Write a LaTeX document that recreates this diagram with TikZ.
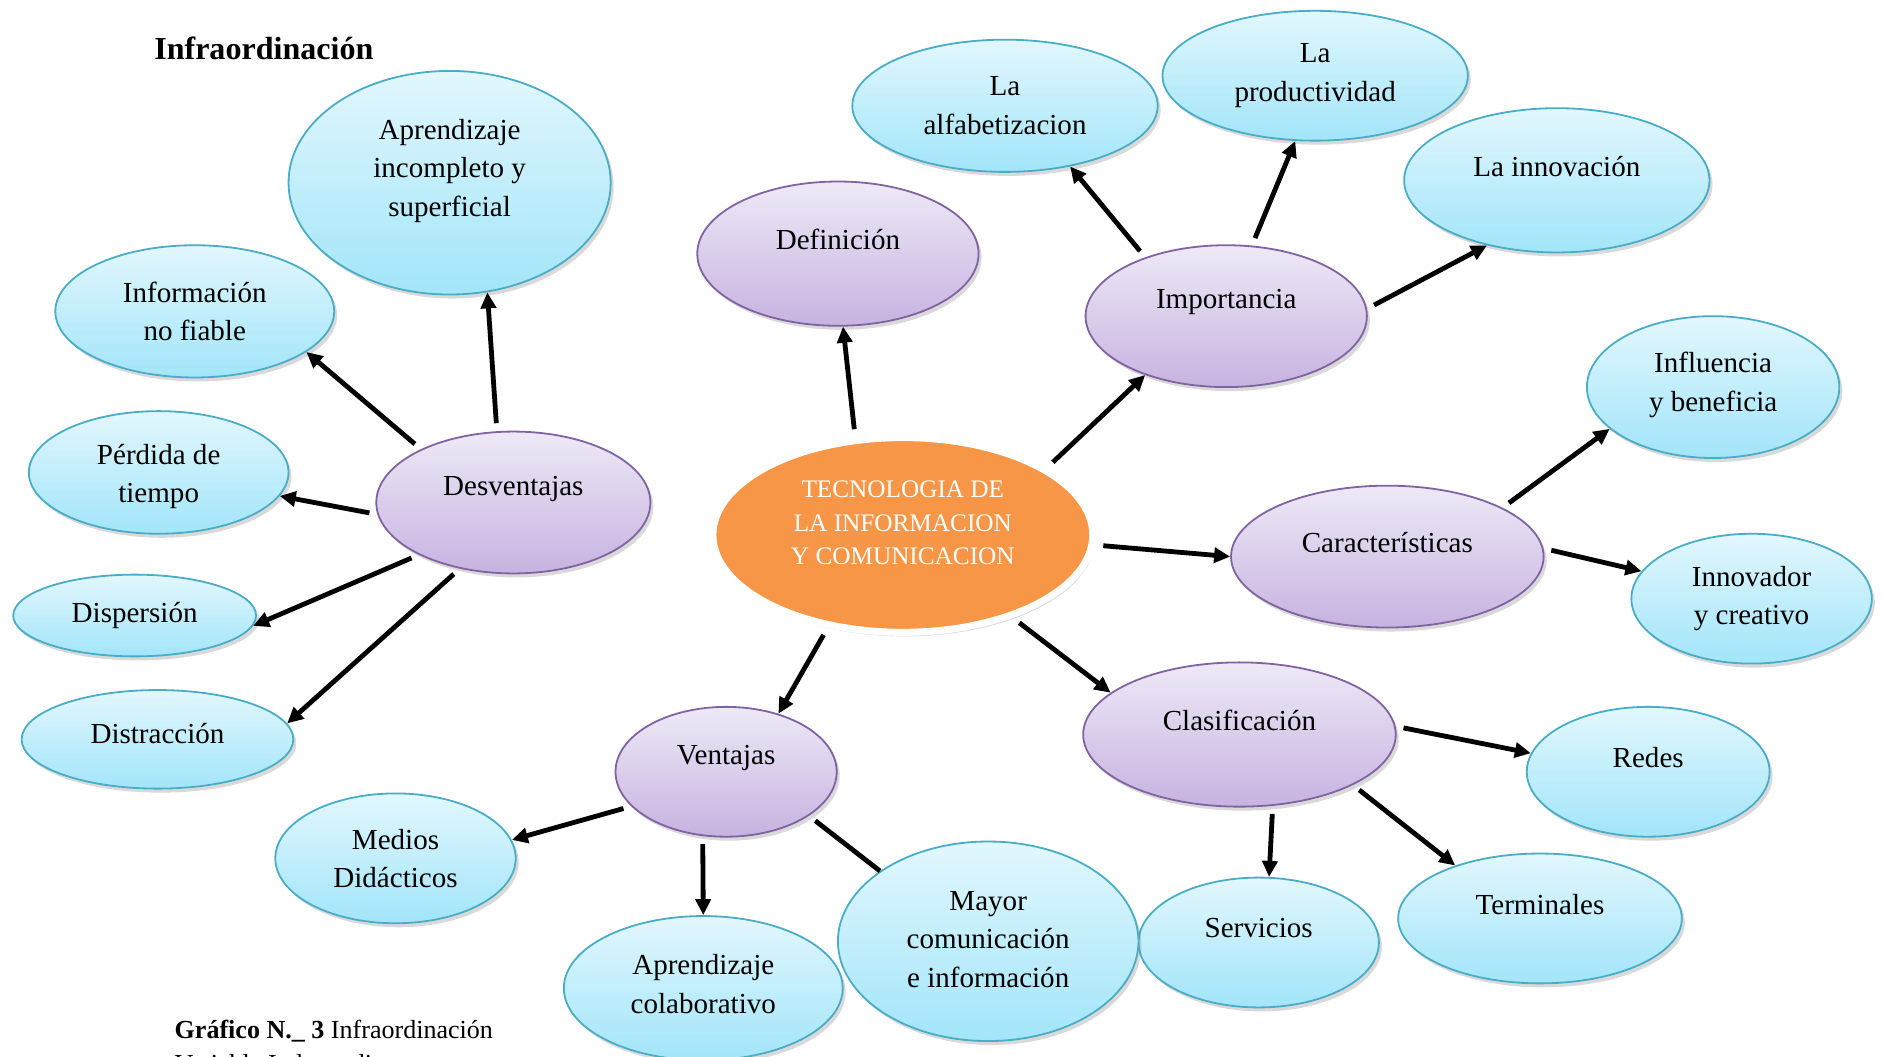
\documentclass[tikz,border=0pt]{standalone}
\usepackage{fontspec}
\setmainfont{Liberation Serif}
\usetikzlibrary{shapes.geometric,shadows,arrows.meta}

\definecolor{celeste}{HTML}{4BACC6}
\definecolor{celestetop}{HTML}{E2F7FD}
\definecolor{celestebot}{HTML}{A2E5F9}
\definecolor{lila}{HTML}{8064A2}
\definecolor{lilatop}{HTML}{EEE9F6}
\definecolor{lilabot}{HTML}{C6B3E0}
\definecolor{naranja}{HTML}{F79646}

\newcommand{\bubfont}{\fontsize{14.5}{19.2}\selectfont}
\newcommand{\ticfont}{\fontsize{12.6}{16.8}\selectfont}

\begin{document}
\begin{tikzpicture}[x=0.6pt,y=-0.6pt]

\tikzset{tam/.style 2 args={minimum width=#1*1.2pt, minimum height=#2*1.2pt},
burbuja/.style={ellipse, inner sep=0pt, draw=celeste, line width=0.9pt, top color=celestetop, bottom color=celestebot,
  drop shadow={shadow xshift=1.5pt, shadow yshift=-2pt, opacity=0.3}},
tema/.style={burbuja, draw=lila, top color=lilatop, bottom color=lilabot},
every label/.style={align=center, font=\bubfont, inner sep=0pt},
%lines leave a small gap at the start
linea/.style={line width=2.4pt, shorten <=4pt},
flecha/.style={linea, -{Triangle[length=8pt,width=7.5pt]}}}

\useasboundingbox (0,0) rectangle (1568,879);

\node [anchor=west, inner sep=0pt, font=\fontsize{16}{19}\selectfont\bfseries] (titulo) at (128,40) {Infraordinación};

\node [ellipse, inner sep=0pt, tam={158}{81}, fill=naranja, draw=white, line width=3.5pt,
  drop shadow={shadow xshift=1pt, shadow yshift=-2pt, opacity=0.3},
  label={[text=white, font=\ticfont, yshift=6pt]center:TECNOLOGIA DE\\LA INFORMACION\\Y COMUNICACION}] (tic) at (751,445) {};

% desventajas
\node [tema, tam={114}{59}, label={[yshift=7pt]center:Desventajas}] (desv) at (427,418) {};
\node [burbuja, tam={134}{93}, label={[yshift=6pt]center:Aprendizaje\\incompleto y\\superficial}] (aic) at (374,152) {};
\node [burbuja, tam={116}{55}, label={center:Información\\no fiable}] (info) at (162,259) {};
\node [burbuja, tam={108}{51}, label={[yshift=-2pt]center:Pérdida de\\tiempo}] (perd) at (132,393) {};
\node [burbuja, tam={101}{34}, label={center:Dispersión}] (disp) at (112,512) {};
\node [burbuja, tam={113}{41}, label={[yshift=3pt]center:Distracción}] (distr) at (131,615) {};

\node [tema, tam={117}{60}, label={[yshift=7pt]center:Definición}] (defi) at (697,211) {};

% importancia
\node [tema, tam={117}{59}, label={[yshift=7pt]center:Importancia}] (imp) at (1020,263) {};
\node [burbuja, tam={127}{55}, label={center:La\\alfabetizacion}] (alfa) at (836,88) {};
\node [burbuja, tam={127}{54}, label={center:La\\productividad}] (prod) at (1094,63) {};
\node [burbuja, tam={127}{60}, label={[yshift=7pt]center:La innovación}] (innov) at (1295,150) {};

% caracteristicas
\node [tema, tam={130}{59}, label={[yshift=7pt]center:Características}] (carac) at (1154,463) {};
\node [burbuja, tam={105}{59}, label={[yshift=1pt]center:Influencia\\y beneficia}] (influ) at (1425,322) {};
\node [burbuja, tam={100}{54}, label={center:Innovador\\y creativo}] (creat) at (1457,498) {};

% clasificacion
\node [tema, tam={130}{60}, label={[yshift=7pt]center:Clasificación}] (clasif) at (1031,611) {};
\node [burbuja, tam={101}{54}, label={[yshift=7pt]center:Redes}] (redes) at (1371,642) {};
\node [burbuja, tam={118}{54}, label={[yshift=7pt]center:Terminales}] (termi) at (1281,764) {};
\node [burbuja, tam={100}{54}, label={[yshift=7pt]center:Servicios}] (serv) at (1047,784) {};

% ventajas
\node [tema, tam={92}{54}, label={[yshift=7pt]center:Ventajas}] (vent) at (604,642) {};
\node [burbuja, tam={100}{54}, label={center:Medios\\Didácticos}] (medios) at (329,714) {};
\node [burbuja, tam={116}{60}, label={[yshift=2pt]center:Aprendizaje\\colaborativo}] (colab) at (585,822) {};
\node [burbuja, tam={125}{83}, label={[yshift=1pt]center:Mayor\\comunicación\\e información}] (mayor) at (822,783) {};

\draw [flecha] (desv.103) -- (aic.-71);
\draw [flecha] (desv.150) -- (info.-20);
\draw [flecha] (desv.185) -- (perd.-11);
\draw [flecha] (desv.209) -- (disp.-5);
\draw [flecha] (desv.231) -- (distr.7);

\draw [flecha] (tic.116) -- (defi.-86);
\draw [flecha] (tic.25) -- (imp.216);
\draw [flecha] (imp.144) -- (alfa.-43);
\draw [flecha] (imp.70) -- (prod.-107);
\draw [flecha] (imp.3) -- (innov.-137);

\draw [flecha] (tic.-3) -- (carac.180);
\draw [flecha] (carac.23) -- (influ.202);
\draw [flecha] (carac.3) -- (creat.166);

\draw [flecha] (tic.-37) -- (clasif.162);
\draw [flecha] (clasif.3) -- (redes.171);
\draw [flecha] (clasif.-65) -- (serv.81);
\draw [flecha] (clasif.-24) -- (termi.148);

\draw [flecha] (tic.231) -- (vent.48);
\draw [flecha] (vent.200) -- (medios.9);
\draw [flecha] (vent.250) -- (colab.90);
\draw [linea] (vent.-28) -- (mayor.147);

\node [anchor=west, inner sep=0pt, font=\fontsize{13}{15.6}\selectfont] (grafico) at (145,858) {\textbf{Gráfico N.\_ 3} Infraordinación};
\node [anchor=west, inner sep=0pt, font=\fontsize{13}{15.6}\selectfont] (variable) at (145,887) {Variable Independiente};

\end{tikzpicture}
\end{document}
